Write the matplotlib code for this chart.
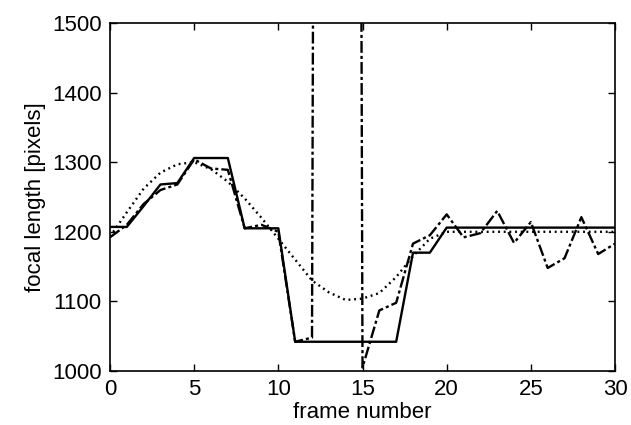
import numpy as np
import matplotlib
matplotlib.use("Agg")
import matplotlib.pyplot as plt

plt.rcParams['font.family'] = 'sans-serif'
plt.rcParams['font.sans-serif'] = ['Liberation Sans', 'DejaVu Sans']
plt.rcParams['font.size'] = 16

# frame numbers
frames = list(range(31))

# true focal length (dotted)
f_true = [1193, 1228, 1262, 1285, 1297, 1300, 1290, 1272, 1248, 1220,
          1190, 1160, 1130, 1113, 1102, 1104, 1112, 1135, 1165, 1190,
          1200, 1200, 1200, 1200, 1200, 1200, 1200, 1200, 1200, 1200, 1200]

# estimate with model (solid)
f_est = [1207, 1207, 1237, 1268, 1270, 1306, 1306, 1306, 1205, 1205,
         1205, 1042, 1042, 1042, 1042, 1042, 1042, 1042, 1170, 1170,
         1206, 1206, 1206, 1206, 1206, 1206, 1206, 1206, 1206, 1206, 1206]

# frame-by-frame estimate (dash-dot), frames 13-14 blow up off the scale
f_raw = [1192, 1210, 1240, 1260, 1268, 1304, 1291, 1289, 1205, 1210,
         1200, 1042, 1048, 9000, 9000, 1005, 1087, 1098, 1183, 1195,
         1225, 1192, 1198, 1230, 1184, 1214, 1148, 1162, 1221, 1168, 1183]

fig = plt.figure(figsize=(6.31, 4.25), dpi=100)
ax = fig.add_axes([0.1743, 0.1271, 0.8004, 0.8188])

ax.plot(frames, f_true, color='black', linestyle=(0, (0.8, 1.6)), linewidth=1.7)
ax.plot(frames, f_est, color='black', linestyle='-', linewidth=1.7)
ax.plot(frames, f_raw, color='black', linestyle=(0, (5, 1.3, 1.3, 1.3)), linewidth=1.7)

ax.set_xlim(0, 30)
ax.set_ylim(1000, 1500)
ax.set_xticks(range(0, 31, 5))
ax.set_yticks(range(1000, 1501, 100))

ax.tick_params(direction='in', top=True, right=True, length=5, width=1,
               pad=6)
for s in ax.spines.values():
    s.set_linewidth(1.2)

ax.set_xlabel('frame number', labelpad=1)
ax.set_ylabel('focal length [pixels]', labelpad=4)

fig.savefig('out.png', dpi=100)
